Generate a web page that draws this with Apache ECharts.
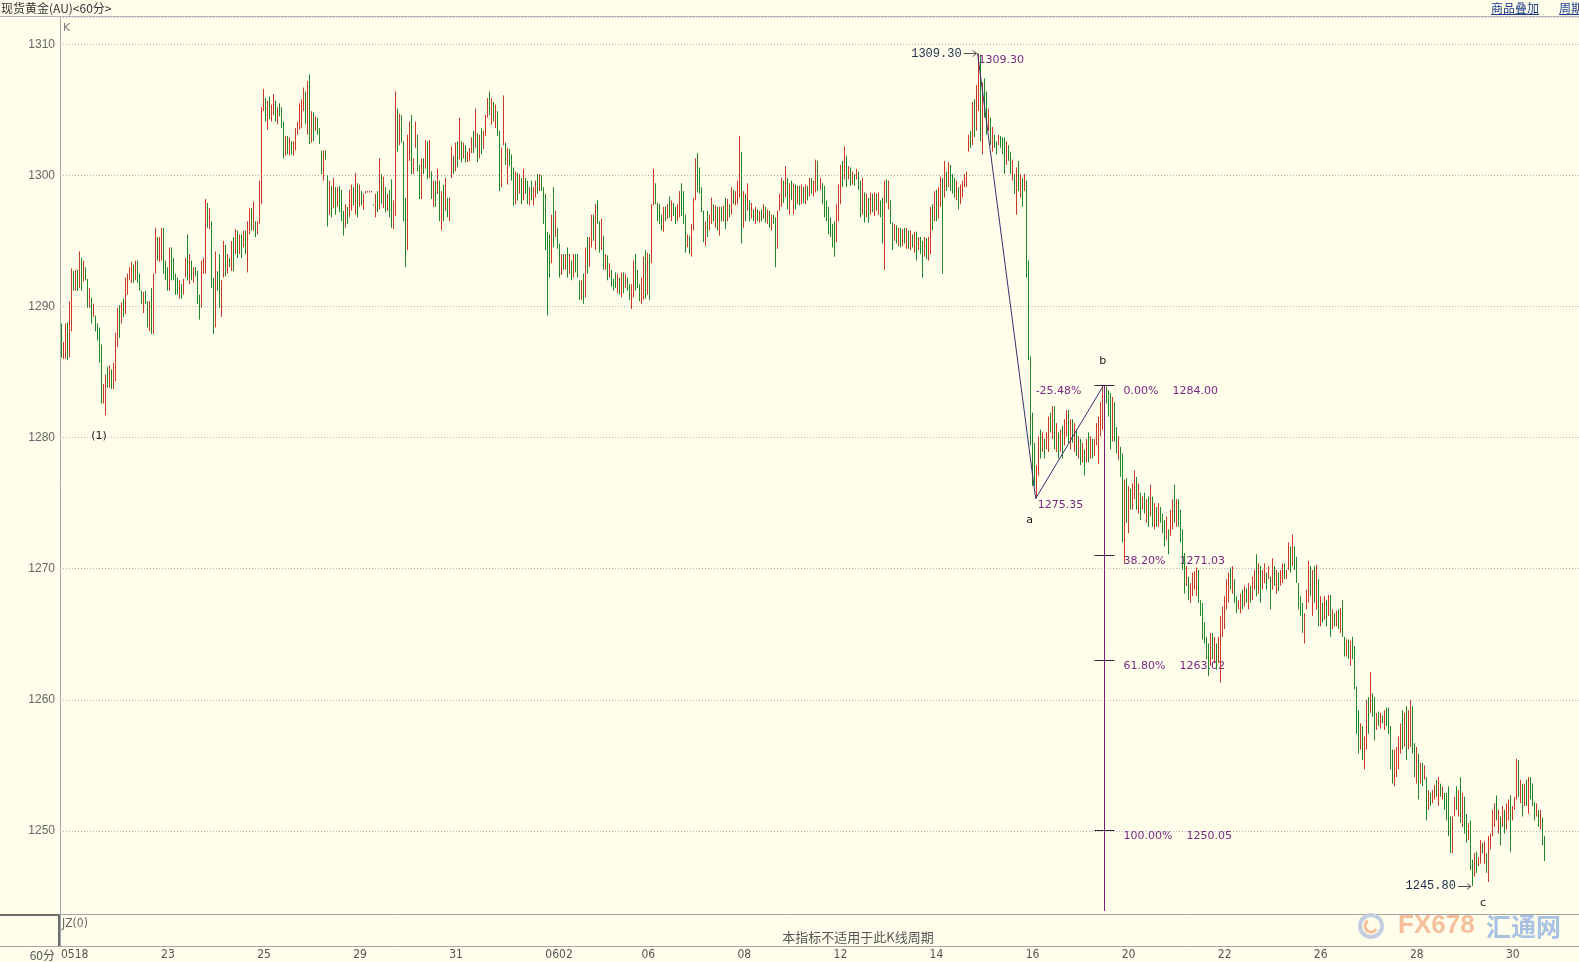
<!DOCTYPE html>
<html><head><meta charset="utf-8">
<script src="https://cdn.jsdelivr.net/npm/echarts/dist/echarts.min.js"></script>
<style>html,body{margin:0;padding:0;background:#fefeea;overflow:hidden}#c{width:1579px;height:962px}</style>
</head><body><div id="c"></div><script>
// ---------------- data ----------------
const days = ['0518','0519','0522','0523','0524','0525','0526','0529','0530','0531','0601','0602','0605','0606','0607','0608','0609','0612','0613','0614','0615','0616','0619','0620','0621','0622','0623','0626','0627','0628','0629','0630'];
const barsPerDay = [2,24,24,24,24,24,24,24,24,24,24,24,24,24,24,24,24,24,24,24,24,24,24,24,24,24,24,24,24,24,24,20];
const axisDays  = ['0518','0523','0525','0529','0531','0602','0606','0608','0612','0614','0616','0620','0622','0626','0628','0630'];
const axisTexts = ['0518','23','25','29','31','0602','06','08','12','14','16','20','22','26','28','30'];
const firstOpen = 1287.0;
const highs = [
1288.7,1287.3,
1288.7,1288.8,1290.4,1292.9,1292.7,1292.8,1292.8,1294.2,1293.7,1293.5,1293.0,1292.1,1291.4,1290.7,1290.2,1289.3,1288.7,1288.4,1287.1,1284.1,1284.8,1285.4,1285.5,1285.2,
1285.7,1288.0,1289.9,1290.1,1290.3,1290.6,1292.2,1292.5,1293.0,1293.4,1293.2,1293.5,1293.5,1292.5,1291.2,1291.1,1291.2,1290.4,1290.4,1291.4,1292.5,1296.0,1295.3,1295.3,
1296.0,1296.0,1293.5,1293.0,1294.5,1294.5,1293.7,1292.5,1292.2,1292.0,1291.7,1292.1,1293.7,1295.5,1294.0,1293.5,1293.0,1293.0,1292.7,1290.9,1293.5,1293.7,1298.2,1297.9,
1297.5,1296.5,1292.2,1294.2,1292.7,1294.0,1292.0,1295.0,1294.7,1294.0,1293.7,1295.0,1295.3,1295.9,1295.8,1295.5,1295.5,1295.8,1295.8,1296.5,1297.5,1297.5,1298.0,1296.5,
1296.5,1299.6,1305.2,1306.6,1305.9,1305.7,1306.0,1305.4,1306.2,1305.7,1305.2,1305.5,1305.2,1304.1,1303.0,1303.0,1302.9,1302.6,1302.6,1303.6,1304.1,1305.5,1305.8,1306.7,
1306.4,1307.2,1307.7,1304.9,1304.8,1304.5,1304.4,1303.6,1301.9,1301.9,1301.9,1300.0,1299.6,1299.2,1299.8,1299.1,1299.1,1299.2,1298.9,1297.3,1297.8,1297.6,1298.9,1299.3,
1299.1,1300.2,1299.4,1299.3,1298.8,1298.6,1298.8,1298.8,1298.8,1298.8,1297.8,1298.6,1298.8,1301.3,1300.1,1299.9,1299.1,1298.6,1298.9,1299.7,1298.1,1306.4,1305.1,1304.7,
1304.6,1302.6,1298.3,1303.1,1304.1,1304.6,1301.3,1304.1,1303.1,1300.8,1301.3,1301.3,1302.7,1302.6,1302.7,1300.3,1299.6,1299.6,1300.5,1299.6,1298.8,1299.3,1299.8,1298.3,
1298.3,1302.2,1301.5,1302.5,1302.6,1304.4,1302.6,1302.5,1302.3,1301.8,1302.1,1302.9,1303.4,1305.1,1303.2,1303.1,1303.6,1303.4,1304.6,1305.9,1306.4,1305.9,1305.6,1305.4,
1304.9,1303.4,1302.1,1306.1,1302.5,1302.1,1302.0,1301.6,1300.6,1300.3,1300.2,1300.1,1299.8,1300.5,1299.8,1299.6,1299.1,1299.6,1299.1,1299.6,1300.1,1300.1,1300.0,1299.1,
1298.6,1295.7,1295.5,1297.0,1299.1,1297.3,1296.0,1294.8,1294.0,1294.0,1294.0,1294.5,1294.0,1293.5,1294.0,1294.0,1294.0,1292.0,1292.0,1292.5,1294.5,1295.3,1295.3,1297.0,
1297.0,1297.8,1298.1,1296.5,1296.7,1295.4,1294.0,1293.9,1293.3,1292.8,1292.1,1292.6,1292.5,1292.2,1292.6,1292.6,1292.5,1292.2,1291.7,1291.7,1293.5,1294.0,1292.8,1291.7,
1292.2,1293.8,1294.3,1294.1,1294.0,1297.8,1300.5,1299.4,1297.9,1297.8,1297.0,1297.6,1297.6,1297.8,1298.4,1298.1,1297.9,1297.6,1297.8,1298.8,1299.4,1298.8,1297.0,1295.5,
1295.4,1296.3,1298.3,1301.3,1301.7,1300.6,1299.1,1297.3,1296.5,1297.3,1297.0,1298.3,1297.8,1297.7,1297.6,1297.6,1297.6,1297.7,1298.3,1298.2,1297.8,1299.1,1298.9,1298.8,
1299.6,1303.0,1301.8,1298.8,1298.6,1299.4,1298.1,1297.9,1297.4,1297.6,1297.4,1297.3,1297.4,1297.8,1297.6,1297.4,1297.3,1297.0,1297.0,1296.8,1297.3,1298.6,1299.8,1299.6,
1300.7,1299.8,1299.4,1299.6,1299.4,1299.3,1299.2,1299.2,1299.3,1299.1,1299.3,1299.2,1299.8,1299.8,1299.6,1301.2,1301.1,1299.8,1299.4,1299.2,1298.1,1297.6,1296.8,1296.3,
1296.5,1297.8,1299.3,1300.8,1301.1,1302.2,1301.5,1300.7,1300.6,1300.3,1300.1,1300.5,1300.3,1299.6,1299.8,1298.7,1298.6,1298.3,1298.7,1298.6,1298.7,1298.6,1298.7,1298.1,
1298.3,1299.6,1299.7,1299.6,1298.1,1296.4,1296.3,1296.2,1296.0,1296.0,1295.9,1296.0,1296.0,1295.8,1295.8,1295.5,1295.7,1295.7,1295.3,1295.3,1295.0,1295.3,1295.2,1295.3,
1297.6,1297.8,1298.8,1298.9,1299.1,1299.9,1299.8,1301.1,1300.3,1301.0,1300.8,1300.1,1299.8,1299.6,1299.1,1299.3,1299.6,1300.1,1300.3,1303.1,1303.4,1305.6,1305.8,1306.9,
1309.3,1309.2,1307.1,1307.4,1306.4,1305.1,1304.4,1303.7,1303.1,1302.6,1303.1,1303.0,1302.9,1302.9,1302.6,1302.3,1301.8,1301.2,1300.1,1300.6,1301.1,1300.1,1299.8,1300.1,
1299.6,1293.5,1286.2,1281.9,1279.6,1277.9,1280.1,1280.6,1280.4,1279.9,1280.4,1281.6,1281.9,1282.4,1282.4,1281.1,1280.4,1280.6,1280.9,1281.4,1282.1,1282.1,1281.4,1281.4,
1281.1,1280.6,1280.1,1279.9,1279.6,1279.1,1279.9,1280.4,1280.1,1279.9,1279.9,1281.1,1281.6,1282.7,1283.9,1284.0,1283.9,1283.6,1283.4,1283.1,1282.7,1280.8,1280.1,1279.3,
1278.8,1276.8,1276.9,1276.3,1276.1,1276.5,1277.5,1277.0,1276.5,1275.8,1275.5,1275.8,1275.3,1275.5,1276.4,1275.5,1275.0,1274.7,1275.0,1274.7,1274.2,1273.7,1274.0,1273.0,
1274.5,1275.3,1276.4,1275.3,1275.3,1274.5,1273.0,1271.2,1270.2,1269.4,1268.9,1269.7,1269.8,1270.1,1269.9,1267.6,1267.4,1265.9,1264.8,1264.3,1265.1,1265.1,1264.8,1264.3,
1264.8,1266.4,1267.1,1267.9,1269.2,1269.7,1270.1,1270.2,1269.2,1267.9,1267.6,1268.1,1268.4,1268.7,1268.5,1268.9,1268.7,1269.4,1269.9,1271.1,1270.4,1270.2,1269.9,1270.4,
1269.7,1270.2,1269.4,1270.8,1270.2,1269.9,1269.7,1269.9,1270.4,1270.4,1269.9,1272.0,1271.7,1272.6,1271.7,1270.9,1268.9,1267.9,1267.4,1266.6,1268.4,1270.6,1270.2,1269.9,
1270.2,1270.3,1269.2,1267.9,1267.4,1267.9,1267.6,1268.0,1268.0,1266.9,1266.6,1266.8,1266.9,1267.0,1267.6,1264.8,1264.6,1264.6,1264.5,1264.8,1264.1,1261.0,1259.2,1258.2,
1258.0,1257.2,1260.0,1260.2,1262.1,1260.5,1260.2,1259.0,1259.1,1259.0,1258.8,1259.2,1259.4,1259.4,1258.0,1256.2,1256.2,1256.4,1257.2,1258.2,1259.2,1259.0,1259.5,1259.2,
1260.0,1259.5,1256.7,1256.4,1255.9,1255.2,1255.2,1255.0,1254.1,1253.1,1252.9,1253.1,1253.5,1253.9,1254.1,1253.6,1253.4,1252.9,1252.9,1253.4,1251.1,1251.1,1252.6,1253.4,
1253.1,1254.1,1252.9,1252.6,1251.3,1250.6,1250.8,1247.8,1248.3,1248.4,1248.0,1249.3,1249.1,1249.2,1248.3,1249.6,1249.8,1251.6,1252.1,1252.7,1251.6,1251.1,1251.9,1251.6,
1252.1,1252.4,1252.7,1251.9,1252.6,1255.5,1255.4,1253.9,1253.6,1253.6,1253.9,1254.1,1254.1,1253.6,1252.2,1252.1,1251.6,1251.6,1251.0,1249.6
];
const lows = [
1286.1,1286.0,
1286.0,1285.9,1286.1,1288.1,1291.2,1291.2,1291.2,1291.4,1291.2,1291.9,1292.0,1289.9,1289.9,1288.7,1289.2,1288.1,1287.4,1285.7,1282.6,1282.6,1281.7,1283.8,1283.8,1283.7,
1283.7,1284.3,1286.9,1287.6,1288.7,1289.2,1289.4,1290.9,1292.0,1291.8,1291.8,1292.0,1291.8,1291.2,1290.2,1289.5,1290.2,1288.4,1288.1,1287.9,1287.9,1292.5,1293.5,1293.4,
1293.5,1292.5,1292.0,1291.2,1291.2,1292.0,1292.0,1290.9,1290.9,1290.6,1290.6,1290.9,1292.2,1292.0,1291.7,1292.0,1291.8,1292.3,1290.2,1289.0,1289.9,1292.5,1292.5,1296.0,
1295.9,1291.4,1287.9,1288.4,1291.2,1289.9,1289.2,1292.2,1292.3,1292.5,1293.0,1292.7,1292.7,1294.0,1293.7,1294.0,1293.7,1294.5,1294.0,1292.6,1295.5,1295.8,1295.8,1295.3,
1295.5,1296.3,1297.8,1304.9,1304.1,1303.5,1304.3,1304.1,1304.6,1304.1,1303.9,1304.5,1303.6,1301.3,1301.5,1301.6,1301.5,1301.6,1301.5,1301.9,1303.1,1303.5,1303.6,1304.9,
1303.9,1303.1,1302.4,1302.5,1302.6,1303.4,1303.1,1302.4,1300.1,1299.6,1301.2,1296.1,1297.0,1296.8,1297.5,1297.0,1297.6,1297.2,1296.5,1295.4,1296.0,1296.3,1296.8,1297.3,
1297.7,1297.0,1296.8,1297.6,1297.7,1297.4,1298.6,1298.7,1298.7,1298.7,1297.7,1296.8,1297.2,1297.4,1297.8,1297.5,1297.2,1297.3,1296.8,1296.0,1295.9,1296.9,1301.8,1302.3,
1302.5,1296.5,1293.0,1294.3,1301.1,1300.1,1300.1,1302.1,1300.3,1298.2,1298.2,1300.1,1300.5,1299.7,1299.8,1298.2,1297.6,1297.6,1298.6,1296.5,1295.8,1296.5,1297.3,1296.8,
1296.5,1299.8,1300.1,1300.3,1300.6,1301.2,1301.0,1301.3,1301.0,1301.0,1301.1,1301.7,1301.7,1302.1,1301.0,1301.3,1301.6,1302.0,1303.0,1304.4,1304.6,1303.9,1304.1,1303.6,
1303.0,1298.8,1299.1,1302.3,1300.8,1299.3,1300.7,1299.6,1297.7,1297.8,1298.1,1298.6,1297.8,1298.1,1298.6,1297.8,1297.7,1298.1,1297.7,1298.3,1298.6,1298.8,1298.8,1296.3,
1294.3,1289.3,1292.2,1293.3,1294.5,1295.3,1294.4,1292.2,1292.4,1292.8,1292.8,1292.2,1292.5,1292.0,1292.2,1292.6,1292.2,1290.5,1290.5,1290.2,1290.7,1292.5,1293.0,1294.5,
1295.0,1294.3,1296.3,1294.1,1294.3,1292.8,1292.8,1292.0,1292.2,1291.5,1291.2,1291.4,1291.0,1290.9,1290.7,1291.0,1291.4,1291.2,1290.5,1289.8,1290.7,1291.2,1291.4,1290.4,
1290.2,1290.5,1290.6,1290.9,1290.5,1293.3,1297.7,1297.8,1296.5,1296.3,1295.8,1295.7,1296.5,1296.7,1296.8,1296.5,1296.9,1296.3,1296.5,1296.8,1296.9,1296.3,1294.1,1294.5,
1294.0,1293.8,1295.8,1298.1,1298.7,1298.6,1297.2,1294.9,1294.6,1295.3,1295.8,1296.3,1296.5,1296.0,1295.8,1295.4,1296.5,1296.5,1295.9,1296.5,1296.8,1297.0,1297.8,1297.7,
1297.8,1298.3,1294.8,1296.0,1296.5,1297.3,1296.5,1296.7,1296.5,1296.3,1296.5,1296.4,1296.5,1296.7,1296.4,1296.3,1296.0,1295.8,1296.3,1293.0,1294.4,1297.3,1297.6,1297.9,
1298.3,1297.4,1297.0,1298.1,1297.0,1297.4,1297.8,1297.7,1297.8,1297.9,1297.8,1298.1,1298.4,1298.6,1298.4,1298.7,1298.8,1298.9,1297.8,1296.8,1296.5,1295.5,1295.3,1294.5,
1293.8,1294.9,1296.5,1297.8,1299.1,1299.7,1299.1,1299.7,1299.2,1299.3,1299.2,1299.7,1298.9,1296.8,1297.0,1296.4,1296.8,1296.4,1297.0,1297.2,1296.9,1297.3,1297.0,1296.8,
1294.8,1292.8,1297.9,1297.4,1296.3,1294.3,1295.0,1294.8,1294.6,1294.5,1294.6,1294.8,1294.4,1294.4,1294.3,1294.5,1294.1,1293.5,1294.3,1294.0,1292.2,1293.8,1293.6,1293.5,
1294.0,1295.8,1296.5,1296.5,1296.7,1297.6,1292.5,1298.3,1298.8,1299.1,1298.8,1298.6,1298.3,1298.1,1297.4,1297.8,1298.3,1299.1,1299.1,1301.8,1302.1,1302.3,1302.9,1303.4,
1304.9,1302.6,1301.6,1304.4,1303.1,1303.4,1302.3,1301.8,1302.1,1301.6,1302.3,1302.1,1301.6,1300.1,1300.8,1301.1,1300.1,1299.6,1298.6,1297.0,1298.8,1298.3,1297.6,1298.8,
1292.2,1285.9,1279.4,1276.3,1276.3,1275.35,1277.1,1278.4,1278.9,1278.4,1279.1,1278.9,1280.4,1279.9,1279.1,1278.9,1278.4,1278.9,1278.4,1279.4,1280.1,1279.6,1279.1,1279.6,
1278.9,1278.6,1278.4,1277.9,1278.1,1277.1,1278.1,1278.1,1278.4,1278.4,1278.6,1279.4,1278.0,1280.1,1280.6,1282.5,1282.6,1281.6,1279.1,1279.7,1279.7,1278.8,1278.3,1277.0,
1272.0,1270.4,1273.5,1272.7,1274.5,1274.5,1275.3,1274.5,1274.2,1273.7,1274.5,1274.2,1273.5,1273.2,1274.0,1273.2,1273.0,1273.2,1273.2,1273.5,1272.7,1271.7,1272.2,1271.1,
1272.5,1273.0,1273.5,1273.2,1273.2,1272.0,1269.9,1268.1,1268.7,1267.6,1267.4,1267.9,1268.4,1267.9,1267.4,1266.4,1264.6,1264.3,1263.1,1261.8,1262.6,1263.1,1262.8,1262.3,
1262.8,1261.3,1264.8,1265.4,1266.9,1267.4,1268.4,1268.1,1267.4,1266.6,1266.9,1266.6,1266.9,1267.1,1267.4,1266.9,1267.4,1267.6,1268.4,1267.9,1268.1,1267.4,1268.4,1268.9,
1268.4,1269.2,1266.9,1268.4,1268.7,1268.1,1268.3,1268.7,1268.9,1269.2,1269.2,1269.9,1269.7,1270.2,1269.9,1268.9,1266.9,1266.4,1265.1,1264.3,1266.9,1267.4,1267.9,1266.4,
1267.4,1266.9,1265.6,1265.6,1265.9,1266.1,1265.6,1266.4,1264.8,1265.4,1265.6,1265.6,1265.4,1265.1,1264.8,1263.3,1263.3,1263.1,1262.6,1263.1,1260.8,1257.4,1255.9,1256.2,
1255.4,1254.7,1256.2,1257.4,1259.0,1258.7,1256.9,1257.7,1258.0,1257.8,1258.2,1257.7,1258.0,1257.4,1254.7,1253.6,1253.4,1254.1,1254.7,1255.9,1256.2,1256.4,1255.4,1256.2,
1256.4,1255.9,1254.1,1253.6,1252.4,1253.6,1253.4,1253.9,1250.8,1251.6,1251.9,1252.1,1252.4,1252.6,1251.9,1252.6,1252.4,1251.6,1250.8,1249.6,1248.3,1248.3,1251.1,1251.6,
1251.1,1250.6,1250.3,1249.8,1249.1,1249.3,1247.0,1245.8,1246.5,1246.8,1247.3,1247.5,1248.3,1247.5,1246.8,1246.1,1248.6,1249.6,1250.3,1250.8,1249.8,1248.9,1250.3,1249.8,
1250.1,1250.8,1248.4,1250.8,1251.6,1252.4,1252.6,1252.1,1251.1,1251.9,1251.9,1251.3,1252.4,1251.9,1250.8,1251.1,1250.3,1250.1,1248.9,1247.7
];
const closes = [
1286.5,1286.8,
1287.9,1286.4,1290.0,1292.5,1291.6,1292.4,1291.5,1293.6,1292.0,1293.0,1292.2,1290.3,1290.9,1289.1,1289.6,1288.4,1287.8,1286.0,1283.2,1283.6,1284.4,1284.2,1285.1,1284.0,
1285.4,1287.6,1289.4,1288.2,1290.0,1289.6,1291.8,1292.2,1292.6,1293.1,1292.3,1293.2,1292.4,1291.5,1290.6,1290.8,1290.5,1288.8,1290.0,1288.3,1292.2,1295.4,1294.0,1295.0,
1295.6,1293.0,1292.9,1291.6,1294.0,1293.1,1292.5,1291.5,1291.2,1291.8,1291.0,1291.9,1293.4,1292.6,1293.6,1292.4,1292.8,1292.5,1290.6,1290.5,1293.0,1293.2,1297.6,1296.5,
1296.9,1291.9,1288.6,1292.9,1291.6,1290.5,1291.7,1294.6,1292.8,1293.6,1293.2,1294.7,1293.1,1295.5,1294.1,1295.2,1294.2,1295.4,1294.6,1296.0,1297.1,1296.2,1297.6,1295.8,
1296.2,1299.2,1304.9,1305.5,1304.6,1305.2,1304.8,1305.0,1305.8,1304.5,1304.9,1304.8,1304.1,1301.8,1302.6,1301.9,1302.4,1301.9,1302.3,1303.3,1303.8,1305.2,1305.4,1306.3,
1304.4,1306.8,1303.0,1304.4,1303.2,1304.1,1303.4,1302.7,1300.5,1301.5,1301.4,1296.8,1299.1,1297.4,1299.3,1297.5,1298.7,1297.7,1296.9,1295.9,1297.4,1296.8,1298.5,1298.9,
1298.0,1299.8,1297.3,1299.0,1298.2,1298.5,1298.7,1298.7,1298.7,1298.7,1297.7,1298.2,1297.6,1300.8,1298.3,1299.5,1297.6,1298.2,1297.2,1296.4,1297.5,1305.6,1302.4,1304.2,
1302.9,1297.0,1294.0,1302.7,1303.6,1300.6,1300.9,1303.6,1300.8,1298.6,1300.9,1300.5,1302.3,1300.2,1302.2,1298.7,1299.2,1298.0,1300.1,1297.0,1298.3,1297.0,1299.4,1297.2,
1297.9,1301.8,1300.6,1302.1,1301.0,1302.2,1301.5,1302.2,1301.4,1301.6,1301.9,1302.6,1302.2,1304.6,1301.6,1302.8,1302.0,1303.1,1304.3,1305.5,1305.0,1305.6,1304.4,1305.0,
1303.4,1299.5,1301.8,1302.8,1301.3,1301.7,1301.0,1300.0,1298.2,1299.9,1298.5,1299.8,1298.2,1300.1,1299.0,1298.1,1298.8,1298.4,1298.9,1299.3,1299.0,1299.7,1299.2,1296.8,
1295.0,1293.8,1292.8,1296.5,1295.2,1295.7,1294.9,1292.6,1293.7,1293.1,1293.6,1292.7,1293.6,1292.4,1293.7,1293.0,1292.5,1291.0,1291.6,1290.8,1294.1,1293.0,1294.9,1296.6,
1295.5,1297.3,1296.7,1294.6,1296.0,1293.2,1293.7,1292.4,1292.9,1291.9,1291.8,1291.6,1292.2,1291.2,1292.3,1291.4,1292.1,1291.5,1290.9,1291.3,1293.1,1291.8,1291.6,1290.8,
1291.9,1293.4,1291.0,1293.7,1293.6,1297.4,1299.1,1298.2,1297.0,1296.6,1296.5,1297.2,1296.8,1297.5,1297.0,1297.8,1297.2,1296.6,1297.5,1298.4,1297.4,1296.8,1294.5,1295.1,
1294.4,1295.9,1298.0,1300.8,1299.2,1299.0,1297.5,1295.3,1296.1,1295.7,1296.7,1297.9,1296.9,1297.3,1296.2,1297.2,1296.9,1297.4,1296.4,1297.9,1297.1,1298.7,1298.1,1298.5,
1299.2,1301.5,1296.2,1298.3,1297.0,1299.0,1296.9,1297.6,1296.8,1297.3,1296.7,1297.1,1296.8,1297.5,1296.6,1297.0,1296.3,1296.7,1296.5,1293.6,1297.0,1298.3,1299.4,1298.2,
1300.3,1297.8,1299.0,1298.4,1299.0,1297.8,1298.9,1298.0,1299.0,1298.3,1299.1,1298.5,1299.5,1298.9,1299.3,1300.8,1299.4,1299.6,1298.1,1297.2,1296.9,1295.8,1295.6,1294.9,
1294.2,1297.5,1299.0,1300.5,1300.0,1301.8,1299.7,1300.4,1299.6,1300.0,1299.5,1300.2,1299.3,1297.2,1299.4,1296.8,1298.2,1296.9,1298.4,1297.5,1298.3,1297.6,1298.4,1297.2,
1295.3,1299.2,1298.3,1299.1,1296.6,1294.7,1295.9,1295.2,1295.7,1294.9,1295.5,1295.1,1295.7,1294.8,1295.3,1294.8,1295.2,1294.0,1295.0,1294.4,1292.8,1294.9,1294.0,1295.0,
1297.2,1296.3,1298.4,1297.0,1298.8,1299.5,1298.0,1300.7,1299.4,1300.6,1299.3,1299.0,1298.6,1299.2,1297.8,1299.0,1299.3,1299.8,1300.1,1302.8,1302.6,1305.2,1303.5,1306.5,
1307.0,1303.0,1306.6,1305.0,1303.6,1304.6,1302.7,1303.3,1302.4,1302.3,1302.7,1302.6,1302.0,1300.6,1302.2,1301.4,1300.4,1300.9,1299.0,1300.2,1299.2,1299.8,1298.0,1299.6,
1292.8,1286.4,1280.0,1277.0,1276.8,1277.6,1279.6,1279.0,1280.0,1278.8,1280.1,1281.2,1280.8,1282.0,1279.6,1280.7,1278.9,1280.2,1278.9,1281.0,1281.7,1280.1,1281.0,1280.0,
1280.6,1279.0,1279.7,1278.3,1279.2,1277.6,1279.5,1278.6,1279.8,1278.8,1279.6,1280.8,1281.3,1282.4,1283.5,1283.8,1283.0,1282.0,1279.8,1282.6,1280.3,1279.2,1279.6,1277.5,
1272.6,1276.0,1274.2,1275.8,1275.0,1276.1,1277.0,1275.0,1276.0,1274.2,1275.2,1274.6,1274.9,1273.7,1276.0,1273.7,1274.6,1273.6,1274.7,1274.0,1273.1,1272.2,1273.6,1271.6,
1274.1,1274.9,1274.2,1275.0,1273.8,1272.4,1270.4,1268.6,1269.8,1268.0,1268.5,1269.3,1269.5,1269.7,1267.8,1266.8,1265.0,1264.7,1263.5,1262.3,1264.6,1263.6,1264.3,1262.8,
1264.4,1265.8,1266.7,1267.5,1268.8,1269.3,1269.0,1269.7,1267.8,1267.0,1267.3,1267.8,1267.3,1268.4,1267.8,1268.6,1267.9,1269.1,1269.6,1268.5,1270.0,1267.9,1269.5,1270.0,
1268.9,1269.9,1267.5,1270.4,1269.1,1269.5,1268.7,1269.6,1270.0,1269.6,1269.8,1271.6,1270.2,1272.2,1270.4,1269.3,1267.3,1266.8,1265.5,1266.2,1268.0,1270.2,1268.4,1269.5,
1267.9,1269.8,1266.0,1267.5,1266.3,1267.5,1266.0,1267.6,1265.2,1266.5,1266.0,1266.4,1265.8,1266.7,1265.2,1263.7,1264.2,1263.5,1264.0,1263.4,1261.2,1257.9,1256.4,1257.8,
1255.9,1256.8,1259.6,1258.0,1261.0,1259.2,1257.4,1258.6,1258.4,1258.7,1258.4,1259.0,1258.3,1257.9,1255.2,1254.0,1255.8,1256.0,1256.8,1257.8,1256.7,1258.6,1256.0,1258.8,
1259.6,1256.4,1254.6,1256.0,1253.0,1254.8,1253.9,1254.3,1251.3,1252.7,1252.2,1252.8,1253.2,1253.0,1253.7,1252.9,1253.0,1252.0,1251.2,1250.1,1248.8,1250.6,1252.2,1252.0,
1252.7,1251.0,1252.4,1250.2,1249.5,1250.2,1247.5,1246.4,1247.9,1247.3,1247.8,1248.9,1248.5,1248.8,1247.2,1249.2,1249.5,1251.2,1251.8,1251.2,1251.3,1249.4,1251.6,1250.3,
1251.8,1252.0,1249.0,1251.5,1252.3,1255.1,1253.1,1253.5,1251.7,1253.2,1252.4,1253.8,1252.8,1252.3,1251.2,1251.7,1250.7,1251.2,1249.3,1248.0
];
// wave annotation points: [bar index, price]
const waveTop = [458, 1309.30];
const waveA   = [487, 1275.35];
const waveB   = [521, 1284.00];
const waveC   = [705, 1245.80];
const wave1   = [22, 1281.70];
const fibRatios = [0, 0.382, 0.618, 1.0];
const emptySlots = 17;

// ---------------- build ----------------
const BG = '#fefeea', UP = '#cc3828', DOWN = '#21862a';
const W = 1579, H = 962, JZ_TOP = 914, AX_Y = 946;
const F_NUM = "'Liberation Sans', Arial, sans-serif";
const F_CJK = "'Noto Sans CJK SC', sans-serif";
const F_ANN = "'DejaVu Sans', sans-serif";
const F_MONO = "'Liberation Mono', 'DejaVu Sans Mono', monospace";
const F_NAR = "'Liberation Sans Narrow', 'DejaVu Sans Condensed', sans-serif";

const categories = [];
const labelAt = {};
let run = 0;
days.forEach((d, k) => {
  const j = axisDays.indexOf(d);
  if (j >= 0) labelAt[run] = axisTexts[j];
  for (let h = 0; h < barsPerDay[k]; h++) categories.push(d + '-' + h);
  run += barsPerDay[k];
});
for (let k = 0; k < emptySlots; k++) categories.push('');
const opens = closes.map((c, i) => i === 0 ? firstOpen : closes[i - 1]);
const ohlc = highs.map((h, i) => [i, opens[i], closes[i], lows[i], h]);

const chart = echarts.init(document.getElementById('c'), null, {renderer: 'canvas'});
const option = {
  animation: false,
  backgroundColor: BG,
  grid: [
    {left: 60, right: 0, top: 17, bottom: 0},
    {left: 60, right: 0, top: AX_Y - 1, height: 1}
  ],
  xAxis: [
    {type: 'category', gridIndex: 0, data: categories, boundaryGap: true, show: false},
    {type: 'category', gridIndex: 1, data: categories, boundaryGap: true, z: 200,
     axisLine: {show: false}, axisTick: {show: false}, splitLine: {show: false},
     axisLabel: {show: true, margin: 3, align: 'left', fontSize: 12, color: '#555', fontFamily: F_NAR,
       interval: (idx) => labelAt[idx] !== undefined,
       formatter: (v, idx) => labelAt[idx] !== undefined ? labelAt[idx] : ''}}
  ],
  yAxis: [
    {type: 'value', gridIndex: 0, min: 1240, max: 1312.08, interval: 10, position: 'left',
     axisLine: {show: false}, axisTick: {show: false},
     axisLabel: {margin: 5, color: '#666', fontSize: 12, fontFamily: F_NUM,
       formatter: v => (v > 1240 && Math.abs(v % 10) < 1e-6) ? String(v) : ''},
     splitLine: {show: true, lineStyle: {color: '#b2b2b2', width: 1, type: [1, 2]}}},
    {type: 'value', gridIndex: 1, show: false, min: 0, max: 1}
  ],
  series: [
    {type: 'custom', name: 'K', xAxisIndex: 0, yAxisIndex: 0, data: ohlc, z: 2, silent: true,
     encode: {x: 0, y: [1, 2, 3, 4]},
     renderItem: function (params, api) {
       const i = api.value(0);
       const t = api.coord([i, api.value(4)]);
       const b = api.coord([i, api.value(3)]);
       const x = Math.round(t[0]) + 0.5;
       let y1 = t[1], y2 = b[1];
       if (y2 - y1 < 1) y2 = y1 + 1;
       const up = api.value(2) >= api.value(1);
       return {type: 'line', shape: {x1: x, y1: y1, x2: x, y2: y2},
               style: {stroke: up ? UP : DOWN, lineWidth: 1}};
     }},
    {type: 'line', xAxisIndex: 0, yAxisIndex: 0, data: [waveTop, waveA, waveB], symbol: 'none', z: 4,
     silent: true, lineStyle: {color: '#3a2f70', width: 1}}
  ]
};
chart.setOption(option);

// ---------------- annotations and frame ----------------
const P = (pt) => chart.convertToPixel({xAxisIndex: 0, yAxisIndex: 0}, pt);
function txt(x, y, s, o) {
  o = o || {};
  return {type: 'text', x: x, y: y, z: o.z !== undefined ? o.z : 100, silent: true,
    style: {text: s, fill: o.fill || '#333', fontSize: o.size || 12, fontFamily: o.font || F_NUM,
      fontWeight: o.weight || 'normal',
      align: o.align || 'left', verticalAlign: 'middle',
      textAlign: o.align || 'left', textVerticalAlign: 'middle'}};
}
function ln(x1, y1, x2, y2, c, w, z) {
  return {type: 'line', z: z !== undefined ? z : 100, silent: true, shape: {x1, y1, x2, y2},
    style: {stroke: c, lineWidth: w || 1}};
}
function arrow(xEnd, y, color) {
  const yy = Math.round(y) + 0.5;
  return [ln(xEnd - 13, yy, xEnd, yy, color, 1, 5),
          {type: 'polyline', z: 5, silent: true, shape: {points: [[xEnd - 4, yy - 3], [xEnd, yy], [xEnd - 4, yy + 3]]},
           style: {stroke: color, lineWidth: 1, fill: 'none'}}];
}
const g = [];
// header
g.push(ln(0, 16.5, W, 16.5, '#b4b4b4', 1));
g.push(txt(1, 8, '现货黄金(AU)<60分>', {font: F_CJK, fill: '#333'}));
g.push(txt(1491, 8, '商品叠加', {font: F_CJK, fill: '#1d3a8a'}));
g.push(ln(1491, 14.5, 1539, 14.5, '#1d3a8a', 1));
g.push(txt(1559, 8, '周期', {font: F_CJK, fill: '#1d3a8a'}));
g.push(ln(1559, 14.5, 1584, 14.5, '#1d3a8a', 1));
g.push(txt(63, 28, 'K', {fill: '#777', size: 11, font: F_ANN}));
// left axis line
g.push(ln(60.5, 17, 60.5, AX_Y, '#aaaaaa', 1));
// JZ panel and date row
g.push({type: 'rect', z: 90, silent: true, shape: {x: 0, y: JZ_TOP, width: W, height: H - JZ_TOP}, style: {fill: BG}});
g.push(ln(0, JZ_TOP + 0.5, W, JZ_TOP + 0.5, '#a6a6a6', 1));
g.push(ln(0, AX_Y + 0.5, W, AX_Y + 0.5, '#a6a6a6', 1));
g.push(ln(0, JZ_TOP + 1, 59, JZ_TOP + 1, '#6e6e6e', 2));
g.push(ln(59, JZ_TOP, 59, AX_Y, '#6e6e6e', 2));
g.push(ln(60.5, JZ_TOP, 60.5, AX_Y, '#aaaaaa', 1));
g.push(txt(62, 924, 'JZ(0)', {fill: '#666', font: F_NAR, size: 12}));
g.push(txt(858, 937, '本指标不适用于此K线周期', {fill: '#555', font: F_CJK, size: 13, align: 'center'}));
g.push(txt(55, 955, '60分', {fill: '#555', font: F_CJK, size: 12, align: 'right'}));
// watermark
g.push({type: 'circle', z: 110, silent: true, shape: {cx: 1371, cy: 926, r: 11}, style: {fill: 'none', stroke: '#c3cfe0', lineWidth: 4}});
g.push({type: 'arc', z: 111, silent: true, shape: {cx: 1371, cy: 926, r: 6, startAngle: 0.5, endAngle: 4.2}, style: {fill: 'none', stroke: '#f6bd98', lineWidth: 3}});
g.push(txt(1398, 926, 'FX678', {fill: '#f6bf9c', font: F_NUM, size: 26, weight: 'bold', z: 110}));
g.push(txt(1486, 926, '汇通网', {fill: '#a9c1e2', font: F_CJK, size: 25, weight: 'bold', z: 110}));

// wave and fibonacci annotations
const NAVY = '#1c2b4a', PURP = '#7a2882', DARK = '#222';
const pt = P(waveTop), pa = P(waveA), pb = P(waveB), pc = P(waveC), p1 = P(wave1);
g.push(txt(pt[0] - 16, pt[1], waveTop[1].toFixed(2), {fill: NAVY, font: F_MONO, align: 'right', z: 5}));
arrow(pt[0] - 1, pt[1], '#555').forEach(e => g.push(e));
g.push(txt(pt[0] + 1, pt[1] + 7, waveTop[1].toFixed(2), {fill: PURP, font: F_ANN, size: 11, z: 5}));
g.push(txt(pa[0] + 2, pa[1] + 6.5, waveA[1].toFixed(2), {fill: PURP, font: F_ANN, size: 11, z: 5}));
g.push(txt(pa[0] - 6, pa[1] + 22, 'a', {fill: DARK, font: F_ANN, size: 11, align: 'center', z: 5}));
g.push(txt(pb[0] - 1, pb[1] - 24, 'b', {fill: DARK, font: F_ANN, size: 11, align: 'center', z: 5}));
const retr = -(waveB[1] - waveA[1]) / (waveTop[1] - waveA[1]) * 100;
g.push(txt(pa[0], pb[1] + 6, retr.toFixed(2) + '%', {fill: PURP, font: F_ANN, size: 11, z: 5}));
g.push(txt(pc[0] - 16, pc[1], waveC[1].toFixed(2), {fill: NAVY, font: F_MONO, align: 'right', z: 5}));
arrow(pc[0] - 1, pc[1], '#555').forEach(e => g.push(e));
g.push(txt(pc[0] + 11, pc[1] + 17, 'c', {fill: DARK, font: F_ANN, size: 11, align: 'center', z: 5}));
g.push(txt(p1[0] - 6, p1[1] + 21, '(1)', {fill: DARK, font: F_ANN, size: 11, align: 'center', z: 5}));
const fx = Math.round(pb[0]) + 0.5;
g.push(ln(fx, pb[1], fx, JZ_TOP - 3, '#7a1e7a', 1, 3));
fibRatios.forEach(r => {
  const lv = waveB[1] - r * (waveTop[1] - waveA[1]);
  const y = Math.round(P([waveB[0], lv])[1]) + 0.5;
  g.push(ln(fx - 10, y, fx + 10, y, '#3a1d3a', 1, 3));
  g.push(txt(fx + 19, y + 6, (r * 100).toFixed(2) + '%    ' + lv.toFixed(2), {fill: PURP, font: F_ANN, size: 11, z: 1}));
});
// sanity check on array lengths
const total = barsPerDay.reduce((s, v) => s + v, 0);
if (highs.length !== total || lows.length !== total || closes.length !== total) {
  g.push(txt(300, 60, 'LEN MISMATCH h' + highs.length + ' l' + lows.length + ' c' + closes.length + ' t' + total, {fill: 'red', size: 20, z: 300}));
}
chart.setOption({graphic: {elements: g}});
</script></body></html>
